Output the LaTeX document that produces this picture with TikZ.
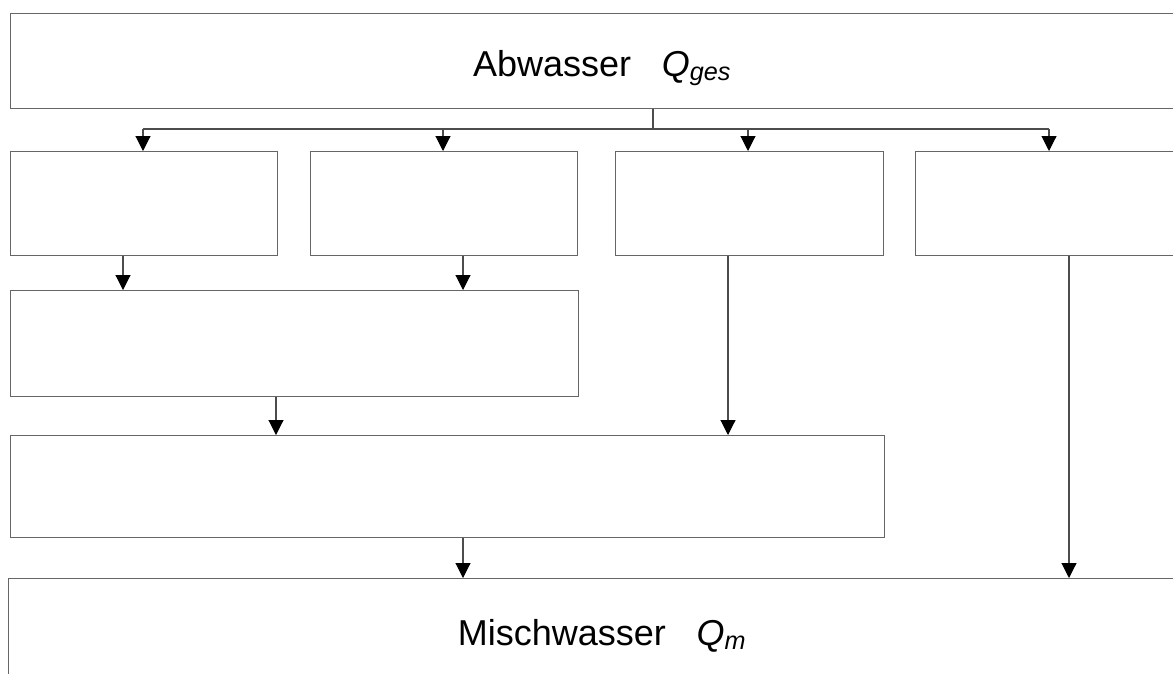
\documentclass[tikz,border=0pt]{standalone}
\usepackage{fontspec}
\setmainfont{Liberation Sans}
\usetikzlibrary{arrows.meta}

\tikzset{
  box/.style={draw=black!60, line width=1.2pt, rectangle, inner sep=0pt, anchor=north west},
  link/.style={draw=black!70, line width=1.1pt},
  arr/.style={link, -{Triangle[width=15pt,length=15pt,color=black]}},
  label/.style={font=\fontsize{36}{40}\selectfont, inner sep=0pt, anchor=base}
}

\begin{document}
\begin{tikzpicture}[x=1pt, y=-1pt]
  \useasboundingbox (0,0) rectangle (1173,673);
  \clip (0,0) rectangle (1173,673);

  % process boxes
  \node[box, minimum width=1286pt, minimum height=95pt]  (top) at (10,13)   {};
  \node[box, minimum width=267pt,  minimum height=104pt] (b1)  at (10,151)  {};
  \node[box, minimum width=267pt,  minimum height=104pt] (b2)  at (310,151) {};
  \node[box, minimum width=268pt,  minimum height=104pt] (b3)  at (615,151) {};
  \node[box, minimum width=300pt,  minimum height=104pt] (b4)  at (915,151) {};
  \node[box, minimum width=568pt,  minimum height=106pt] (b5)  at (10,290)  {};
  \node[box, minimum width=874pt,  minimum height=102pt] (b6)  at (10,435)  {};
  \node[box, minimum width=1300pt, minimum height=150pt] (bot) at (8,578)   {};

  % labels
  \node[label] (ltop) at (602,76)  {Abwasser\hspace{0.85em}\textit{Q}\textsubscript{\textit{ges}}};
  \node[label] (lbot) at (602,645) {Mischwasser\hspace{0.85em}\textit{Q}\textsubscript{\textit{m}}};

  % distribution from the inflow
  \coordinate (split) at (653,129);
  \draw[link] (top.south -| split) -- (split);
  \draw[link] (143,129) -- (1049,129);
  \draw[arr] (143,129)  -- (b1.north -| 143,0);
  \draw[arr] (443,129)  -- (b2.north -| 443,0);
  \draw[arr] (748,129)  -- (b3.north -| 748,0);
  \draw[arr] (1049,129) -- (b4.north -| 1049,0);

  % flows between the stages
  \draw[arr] (b1.south -| 123,0)  -- (b5.north -| 123,0);
  \draw[arr] (b2.south -| 463,0)  -- (b5.north -| 463,0);
  \draw[arr] (b5.south -| 276,0)  -- (b6.north -| 276,0);
  \draw[arr] (b3.south -| 728,0)  -- (b6.north -| 728,0);
  \draw[arr] (b6.south -| 463,0)  -- (bot.north -| 463,0);
  \draw[arr] (b4.south -| 1069,0) -- (bot.north -| 1069,0);
\end{tikzpicture}
\end{document}
